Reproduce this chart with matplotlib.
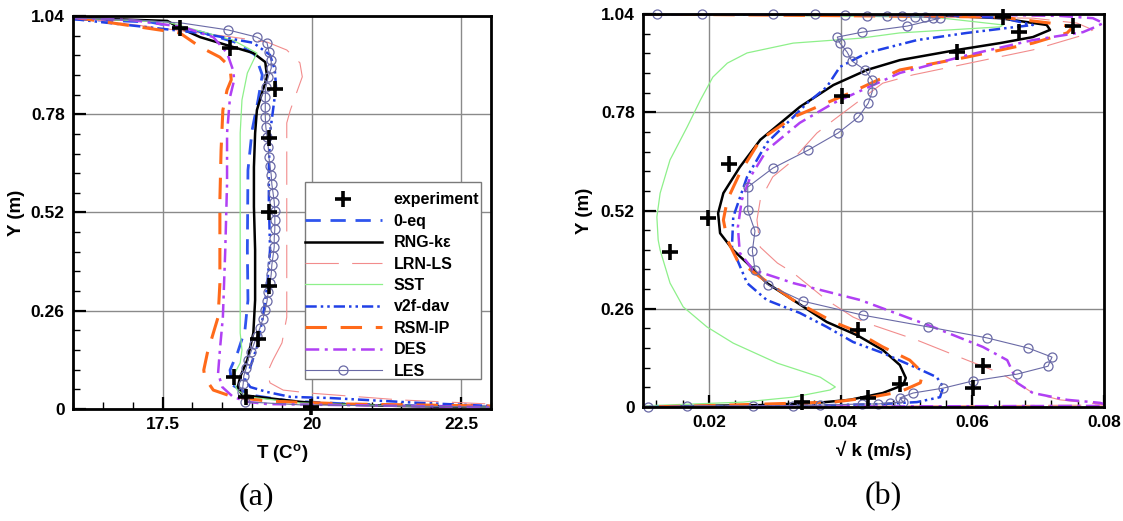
import matplotlib
matplotlib.use("Agg")
import matplotlib.pyplot as plt
from matplotlib.lines import Line2D
from matplotlib.patches import Rectangle
from matplotlib.ticker import MultipleLocator

plt.rcParams["font.family"] = ["Liberation Sans", "DejaVu Sans"]
plt.rcParams["font.weight"] = "bold"
plt.rcParams["axes.labelweight"] = "bold"
plt.rcParams["mathtext.fontset"] = "custom"
plt.rcParams["mathtext.rm"] = "Liberation Sans:bold"
plt.rcParams["mathtext.it"] = "Liberation Sans:bold"
plt.rcParams["mathtext.bf"] = "Liberation Sans:bold"

# ---------------- (a) temperature profiles ----------------
temp_exp = [17.80, 18.63, 19.39, 19.29, 19.29, 19.29, 19.09, 18.69, 18.89, 19.99]
ytemp_exp = [1.008, 0.955, 0.847, 0.717, 0.521, 0.325, 0.185, 0.085, 0.032, 0.005]

temp_0eq = [16.0, 17.29, 18.13, 18.71, 19.05, 19.17, 19.10, 19.00, 18.93, 18.92,
            18.93, 18.88, 18.76, 18.63, 18.66, 18.97, 19.64, 20.64, 21.81, 23.0]
ytemp_0eq = [1.032, 1.024, 0.998, 0.971, 0.937, 0.884, 0.818, 0.738, 0.632, 0.421,
             0.288, 0.209, 0.151, 0.103, 0.064, 0.037, 0.021, 0.013, 0.008, 0.005]

temp_rng = [16.0, 17.58, 17.79, 18.13, 18.68, 19.02, 19.22, 19.25, 19.18, 19.08,
            19.05, 19.03, 19.03, 19.05, 19.05, 19.02, 18.92, 18.80, 18.76, 18.83,
            19.25, 19.80, 20.31, 21.48, 23.0]
ytemp_rng = [1.035, 1.027, 1.008, 0.984, 0.958, 0.942, 0.918, 0.879, 0.844, 0.791,
             0.730, 0.640, 0.535, 0.421, 0.288, 0.201, 0.130, 0.085, 0.058, 0.037,
             0.029, 0.019, 0.013, 0.008, 0.005]

temp_lrn = [16.0, 18.68, 19.25, 19.58, 19.80, 19.84, 19.64, 19.58, 19.58, 19.58,
            19.50, 19.35, 19.25, 19.30, 19.52, 19.97, 21.48, 23.0]
ytemp_lrn = [1.037, 0.984, 0.971, 0.950, 0.916, 0.879, 0.791, 0.757, 0.394, 0.243,
             0.175, 0.130, 0.095, 0.069, 0.050, 0.042, 0.024, 0.013]

temp_sst = [16.0, 17.58, 18.68, 19.08, 18.92, 18.83, 18.80, 18.80, 18.80, 18.83,
            18.80, 18.71, 18.68, 18.75, 18.92, 19.80, 21.48, 23.0]
ytemp_sst = [1.035, 1.024, 0.976, 0.942, 0.889, 0.818, 0.730, 0.394, 0.201, 0.156,
             0.122, 0.095, 0.077, 0.050, 0.032, 0.016, 0.008, 0.005]

temp_v2f = [16.0, 18.13, 19.02, 19.30, 19.38, 19.40, 19.35, 19.30, 19.28, 19.28,
            19.30, 19.25, 19.18, 19.08, 18.97, 18.88, 18.97, 19.25, 19.64, 20.31,
            21.81, 23.0]
ytemp_v2f = [1.032, 0.995, 0.969, 0.937, 0.897, 0.852, 0.791, 0.730, 0.640, 0.553,
             0.421, 0.323, 0.243, 0.164, 0.111, 0.077, 0.058, 0.045, 0.032, 0.029,
             0.016, 0.008]

temp_rsm = [16.0, 17.79, 18.13, 18.46, 18.63, 18.65, 18.58, 18.51, 18.48, 18.46,
            18.46, 18.43, 18.35, 18.25, 18.19, 18.21, 18.35, 18.68, 19.25, 20.64, 23.0]
ytemp_rsm = [1.037, 0.995, 0.958, 0.931, 0.905, 0.871, 0.844, 0.791, 0.685, 0.553,
             0.333, 0.243, 0.201, 0.148, 0.103, 0.082, 0.050, 0.032, 0.021, 0.013, 0.008]

temp_des = [16.0, 17.0, 17.84, 18.35, 18.58, 18.68, 18.70, 18.63, 18.58, 18.58,
            18.55, 18.51, 18.46, 18.43, 18.50, 18.68, 18.92, 19.25, 23.0]
ytemp_des = [1.035, 1.029, 1.011, 0.984, 0.942, 0.897, 0.871, 0.826, 0.730, 0.598,
             0.421, 0.243, 0.156, 0.095, 0.058, 0.032, 0.019, 0.013, 0.005]

temp_les = [16.0, 17.12, 17.84, 18.60, 19.08, 19.25, 19.28, 19.32, 19.32, 19.27,
            19.23, 19.22, 19.22, 19.22, 19.23, 19.25, 19.27, 19.28, 19.30, 19.32,
            19.33, 19.35, 19.37, 19.38, 19.38, 19.38, 19.37, 19.37, 19.35, 19.33,
            19.32, 19.30, 19.27, 19.25, 19.22, 19.18, 19.13, 19.08, 19.03, 18.98,
            18.93, 18.90, 18.86, 18.85, 18.83, 18.88, 19.80, 23.0]
ytemp_les = [1.035, 1.029, 1.021, 1.003, 0.984, 0.969, 0.945, 0.924, 0.902, 0.879,
             0.852, 0.826, 0.799, 0.773, 0.746, 0.720, 0.693, 0.667, 0.643, 0.619,
             0.595, 0.572, 0.548, 0.524, 0.500, 0.476, 0.453, 0.429, 0.405, 0.381,
             0.357, 0.333, 0.310, 0.286, 0.262, 0.238, 0.214, 0.193, 0.172, 0.151,
             0.130, 0.108, 0.087, 0.066, 0.045, 0.019, 0.011, 0.005]

# ---------------- (b) sqrt(k) profiles ----------------
sk_exp = [0.0647, 0.0753, 0.0671, 0.0577, 0.0402, 0.0231, 0.0199, 0.0141,
          0.0426, 0.0616, 0.0490, 0.0601, 0.0442, 0.0341]
ysk_exp = [1.032, 1.008, 0.992, 0.939, 0.823, 0.643, 0.500, 0.410,
           0.204, 0.108, 0.061, 0.050, 0.024, 0.013]

sk_rng = [0.0100, 0.0338, 0.0540, 0.0642, 0.0713, 0.0718, 0.0692, 0.0642, 0.0577,
          0.0490, 0.0440, 0.0389, 0.0338, 0.0278, 0.0247, 0.0222, 0.0214, 0.0217,
          0.0237, 0.0258, 0.0288, 0.0328, 0.0379, 0.0425, 0.0464, 0.0490, 0.0499,
          0.0495, 0.0464, 0.0414, 0.0364, 0.0278, 0.0187, 0.0100]
ysk_rng = [1.040, 1.040, 1.037, 1.029, 1.011, 0.998, 0.979, 0.963, 0.945,
           0.918, 0.892, 0.852, 0.794, 0.707, 0.635, 0.566, 0.513, 0.460,
           0.415, 0.381, 0.328, 0.283, 0.225, 0.190, 0.151, 0.111, 0.077,
           0.058, 0.037, 0.019, 0.011, 0.005, 0.003, 0.000]

sk_lrn = [0.0100, 0.0692, 0.0759, 0.0783, 0.0768, 0.0692, 0.0510, 0.0464, 0.0389,
          0.0364, 0.0323, 0.0297, 0.0278, 0.0273, 0.0278, 0.0304, 0.0328, 0.0379,
          0.0419, 0.0440, 0.0516, 0.0592, 0.0642, 0.0668, 0.0692, 0.0733, 0.0809, 0.0100]
ysk_lrn = [1.040, 1.029, 1.016, 0.998, 0.984, 0.945, 0.879, 0.857, 0.759,
           0.725, 0.646, 0.609, 0.548, 0.495, 0.423, 0.381, 0.355, 0.283,
           0.238, 0.222, 0.177, 0.124, 0.090, 0.064, 0.037, 0.019, 0.005, 0.000]

sk_sst = [0.0100, 0.0540, 0.0647, 0.0642, 0.0490, 0.0430, 0.0328, 0.0258, 0.0228,
          0.0206, 0.0187, 0.0167, 0.0141, 0.0126, 0.0121, 0.0123, 0.0126, 0.0141,
          0.0161, 0.0197, 0.0237, 0.0304, 0.0369, 0.0392, 0.0384, 0.0328, 0.0252,
          0.0176, 0.0100]
ysk_sst = [1.040, 1.032, 1.011, 1.006, 0.990, 0.976, 0.963, 0.937, 0.910,
           0.873, 0.812, 0.741, 0.654, 0.566, 0.503, 0.442, 0.415, 0.328,
           0.265, 0.212, 0.169, 0.116, 0.079, 0.053, 0.045, 0.026, 0.013,
           0.008, 0.003]

sk_v2f = [0.0100, 0.0566, 0.0647, 0.0692, 0.0653, 0.0592, 0.0516, 0.0440, 0.0399,
          0.0379, 0.0349, 0.0328, 0.0288, 0.0258, 0.0237, 0.0235, 0.0258, 0.0288,
          0.0338, 0.0379, 0.0419, 0.0464, 0.0516, 0.0546, 0.0556, 0.0551, 0.0516,
          0.0464, 0.0338, 0.0100]
ysk_v2f = [1.040, 1.037, 1.029, 1.011, 1.003, 0.990, 0.971, 0.937, 0.900,
           0.847, 0.804, 0.767, 0.699, 0.609, 0.503, 0.423, 0.328, 0.283,
           0.249, 0.212, 0.172, 0.143, 0.103, 0.079, 0.053, 0.026, 0.013,
           0.008, 0.003, 0.000]

sk_rsm = [0.0100, 0.0642, 0.0718, 0.0753, 0.0744, 0.0692, 0.0592, 0.0490, 0.0414,
          0.0328, 0.0278, 0.0247, 0.0228, 0.0222, 0.0228, 0.0243, 0.0278, 0.0328,
          0.0389, 0.0419, 0.0464, 0.0505, 0.0525, 0.0521, 0.0490, 0.0440, 0.0389,
          0.0187, 0.0100]
ysk_rsm = [1.040, 1.032, 1.016, 1.006, 0.990, 0.963, 0.926, 0.892, 0.831,
           0.767, 0.707, 0.619, 0.548, 0.495, 0.442, 0.389, 0.344, 0.283,
           0.225, 0.204, 0.159, 0.124, 0.090, 0.064, 0.040, 0.024, 0.013,
           0.003, 0.000]

sk_des = [0.0100, 0.0657, 0.0733, 0.0783, 0.0799, 0.0783, 0.0768, 0.0692, 0.0592,
          0.0490, 0.0389, 0.0338, 0.0288, 0.0263, 0.0250, 0.0244, 0.0247, 0.0267,
          0.0328, 0.0430, 0.0540, 0.0616, 0.0653, 0.0662, 0.0668, 0.0692, 0.0744,
          0.0794, 0.0809, 0.0100]
ysk_des = [1.040, 1.037, 1.035, 1.029, 1.016, 1.003, 0.992, 0.971, 0.931,
           0.884, 0.804, 0.752, 0.680, 0.609, 0.548, 0.476, 0.408, 0.363,
           0.328, 0.283, 0.212, 0.159, 0.124, 0.090, 0.064, 0.037, 0.019,
           0.011, 0.003, 0.000]

sk_les = [0.0121, 0.0190, 0.0297, 0.0361, 0.0407, 0.0440, 0.0471, 0.0493, 0.0513,
          0.0528, 0.0540, 0.0551, 0.0501, 0.0433, 0.0395, 0.0399, 0.0410, 0.0417,
          0.0437, 0.0448, 0.0448, 0.0442, 0.0427, 0.0396, 0.0351, 0.0297, 0.0259,
          0.0259, 0.0270, 0.0266, 0.0270, 0.0290, 0.0343, 0.0434, 0.0533, 0.0622,
          0.0685, 0.0721, 0.0715, 0.0668, 0.0601, 0.0556, 0.0510, 0.0490, 0.0495,
          0.0475, 0.0457, 0.0433, 0.0369, 0.0328, 0.0267, 0.0167, 0.0108]
ysk_les = [1.040, 1.040, 1.040, 1.040, 1.037, 1.035, 1.035, 1.035, 1.032,
           1.032, 1.029, 1.029, 1.008, 0.992, 0.979, 0.963, 0.939, 0.916,
           0.892, 0.865, 0.834, 0.804, 0.767, 0.725, 0.680, 0.632, 0.582,
           0.521, 0.466, 0.413, 0.363, 0.323, 0.280, 0.243, 0.212, 0.183,
           0.156, 0.132, 0.108, 0.087, 0.069, 0.050, 0.037, 0.024, 0.013,
           0.011, 0.008, 0.008, 0.005, 0.003, 0.003, 0.003, 0.000]

y_ticks = [0, 0.26, 0.52, 0.78, 1.04]
y_ticklabels = ["0", "0.26", "0.52", "0.78", "1.04"]
temp_ticks = [17.5, 20, 22.5]
temp_ticklabels = ["17.5", "20", "22.5"]
sk_ticks = [0.02, 0.04, 0.06, 0.08]
sk_ticklabels = ["0.02", "0.04", "0.06", "0.08"]

model_labels = ["0-eq", "RNG-k\u03b5", "LRN-LS", "SST", "v2f-dav", "RSM-IP", "DES", "LES"]

styles = {
    "0-eq": dict(color="#2f55ee", lw=2.0, dashes=(5.5, 3.5)),
    "RNG-k\u03b5": dict(color="black", lw=1.8),
    "LRN-LS": dict(color="#f28c8c", lw=0.8, dashes=(30, 12)),
    "SST": dict(color="#8ef08a", lw=0.9),
    "v2f-dav": dict(color="#2040e6", lw=1.8, dashes=(4.5, 1.6, 1.0, 1.6, 1.0, 1.6)),
    "RSM-IP": dict(color="#ff6a1a", lw=2.2, dashes=(7, 4.5)),
    "DES": dict(color="#b040f4", lw=1.8, dashes=(5.5, 2.2, 1.2, 2.2)),
    "LES": dict(color="#6a6aa6", lw=0.8, marker="o", ms=6.5, mfc="none",
                mec="#6a6aa6", mew=0.9),
}
exp_style = dict(ls="none", marker="+", ms=12, mew=2.6, color="black")


def style_axes(ax, xminor):
    ax.set_ylim(0, 1.04)
    ax.set_yticks(y_ticks)
    ax.set_yticklabels(y_ticklabels)
    ax.yaxis.set_minor_locator(MultipleLocator(0.052))
    ax.xaxis.set_minor_locator(MultipleLocator(xminor))
    ax.tick_params(which="both", direction="in", top=False, right=False)
    ax.tick_params(which="major", length=9, width=1.6, labelsize=12.5, pad=6)
    ax.tick_params(which="minor", length=5, width=1.0)
    ax.set_axisbelow(True)
    ax.grid(True, which="major", color="#8a8a8a", lw=1.0)
    for sp in ax.spines.values():
        sp.set_linewidth(2.0)


fig = plt.figure(figsize=(11.23, 5.21), dpi=100)
ax1 = fig.add_axes([0.0650, 0.2150, 0.3722, 0.7543])
ax2 = fig.add_axes([0.5726, 0.2188, 0.4105, 0.7543])

# panel (a)
left_data = {
    "0-eq": (temp_0eq, ytemp_0eq),
    "RNG-k\u03b5": (temp_rng, ytemp_rng),
    "LRN-LS": (temp_lrn, ytemp_lrn),
    "SST": (temp_sst, ytemp_sst),
    "v2f-dav": (temp_v2f, ytemp_v2f),
    "RSM-IP": (temp_rsm, ytemp_rsm),
    "DES": (temp_des, ytemp_des),
    "LES": (temp_les, ytemp_les),
}
for name, (x, y) in left_data.items():
    kw = dict(styles[name])
    if name == "LES":
        kw["markevery"] = list(range(3, 46))
        kw["clip_on"] = False
    ax1.plot(x, y, **kw)
ax1.plot(temp_exp, ytemp_exp, clip_on=False, zorder=5, **exp_style)

ax1.set_xlim(16, 23)
ax1.set_xticks(temp_ticks)
ax1.set_xticklabels(temp_ticklabels)
style_axes(ax1, 0.5)
ax1.set_xlabel(r"T (C$^{o}$)", fontsize=13.5)
ax1.set_ylabel("Y (m)", fontsize=13.5)
ax1.xaxis.set_label_coords(0.5, -0.085)
ax1.yaxis.set_label_coords(-0.115, 0.5)

# legend: drawn frameless, with its own box behind it
handles = [Line2D([], [], **exp_style)]
for name in model_labels:
    handles.append(Line2D([], [], **styles[name]))
ax1.add_patch(Rectangle((0.555, 0.0763), 0.421, 0.5013, transform=ax1.transAxes,
                        facecolor="white", edgecolor="#7a7a7a", lw=1.0, zorder=6))
leg = ax1.legend(handles, ["experiment"] + model_labels, loc="upper left",
                 bbox_to_anchor=(0.555, 0.551), borderaxespad=0, borderpad=0,
                 frameon=False, fontsize=11.5, handlelength=4.8,
                 handletextpad=0.75, labelspacing=0.40, numpoints=1)
leg.set_zorder(7)

# panel (b)
right_data = {
    "RNG-k\u03b5": (sk_rng, ysk_rng),
    "LRN-LS": (sk_lrn, ysk_lrn),
    "SST": (sk_sst, ysk_sst),
    "v2f-dav": (sk_v2f, ysk_v2f),
    "RSM-IP": (sk_rsm, ysk_rsm),
    "DES": (sk_des, ysk_des),
    "LES": (sk_les, ysk_les),
}
for name, (x, y) in right_data.items():
    kw = dict(styles[name])
    if name == "LES":
        kw["clip_on"] = False
    ax2.plot(x, y, **kw)
ax2.plot(sk_exp, ysk_exp, clip_on=False, zorder=5, **exp_style)

ax2.set_xlim(0.01, 0.08)
ax2.set_xticks(sk_ticks)
ax2.set_xticklabels(sk_ticklabels)
style_axes(ax2, 0.004)
ax2.set_xlabel("\u221a k (m/s)", fontsize=13.5)
ax2.set_ylabel("Y (m)", fontsize=13.5)
ax2.xaxis.set_label_coords(0.5, -0.085)
ax2.yaxis.set_label_coords(-0.108, 0.5)

fig.text(256 / 1123, 1 - 497 / 521, "(a)", family="Liberation Serif",
         fontweight="normal", fontsize=23, ha="center", va="center")
fig.text(883 / 1123, 1 - 497 / 521, "(b)", family="Liberation Serif",
         fontweight="normal", fontsize=23, ha="center", va="center")

fig.savefig("out.png", dpi=100)
